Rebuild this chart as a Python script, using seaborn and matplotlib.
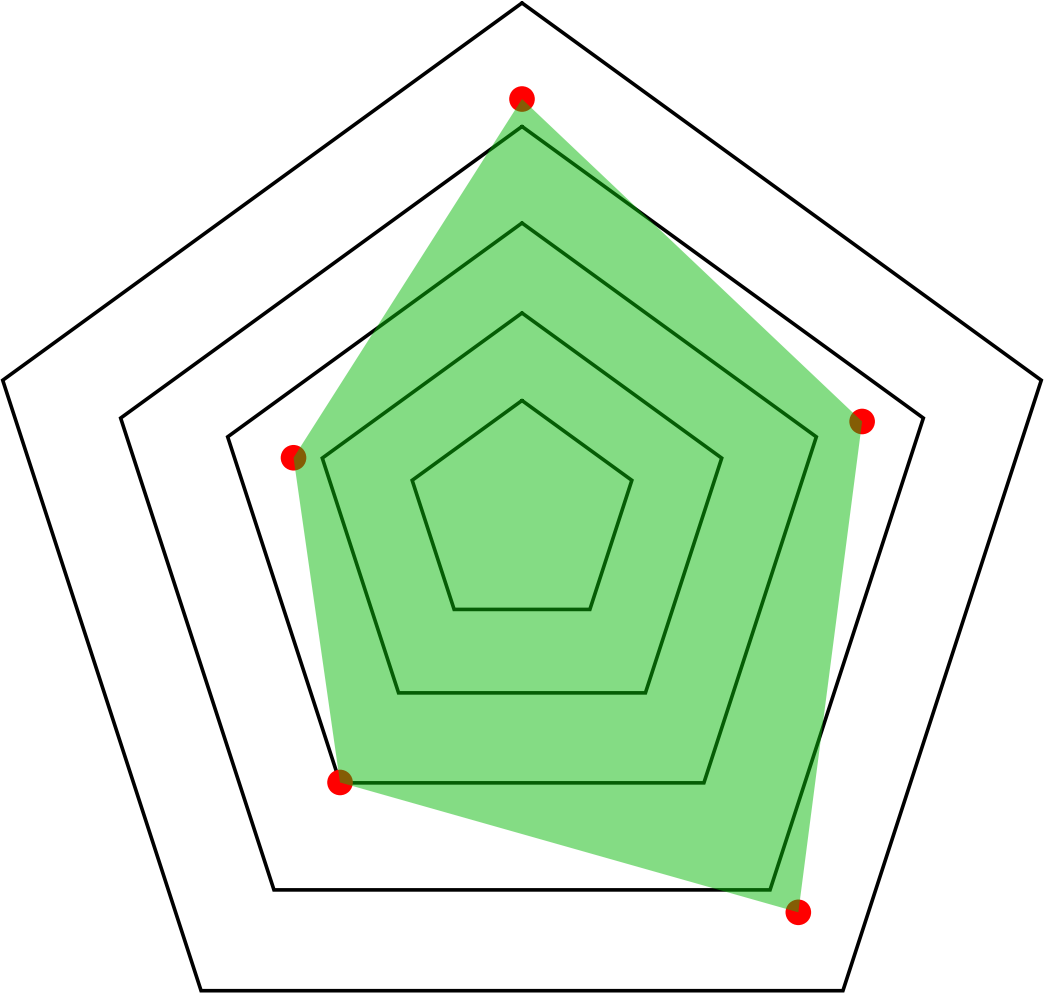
import numpy as np
import pandas as pd
import matplotlib
matplotlib.use("Agg")
import matplotlib.pyplot as plt
import seaborn as sns

# ---- data ----
categories = ["A", "B", "C", "D", "E"]
values = [79.3, 65.5, 86.1, 56.7, 44.0]
ring_levels = [21.15, 38.46, 56.68, 77.29, 100.0]
value_max = 100.0

# ---- layout / style (not data) ----
ring_center_shift = [2.93, 1.65, -0.09, -3.02, -3.11]  # vertical offset of each grid ring
fill_color = "#0bbb0b"
dot_color = "#ff0000"

sns.set_theme(style="white")

n = len(categories)
angles = np.deg2rad(90 - 360.0 / n * np.arange(n))

def polygon(radius, shift=0.0):
    xs = radius * np.cos(angles)
    ys = radius * np.sin(angles) + shift
    return np.append(xs, xs[0]), np.append(ys, ys[0])

fig = plt.figure(figsize=(10.44, 9.93), dpi=100)
ax = fig.add_axes([0, 0, 1, 1])
scale = 5.46  # px per unit
ax.set_xlim(-522 / scale, (1044 - 522) / scale)
ax.set_ylim((532 - 993) / scale, 532 / scale)
ax.set_aspect("equal")
ax.axis("off")

# grid rings
for lvl, sh in zip(ring_levels, ring_center_shift):
    xs, ys = polygon(lvl, sh)
    ax.plot(xs, ys, color="black", lw=2.6, solid_joinstyle="miter", zorder=1)

# data points
vals = np.array(values)
df = pd.DataFrame({
    "category": categories,
    "x": vals * np.cos(angles),
    "y": vals * np.sin(angles),
})
sns.scatterplot(data=df, x="x", y="y", color=dot_color, s=340, edgecolor="none",
                linewidth=0, ax=ax, zorder=2, legend=False)

# filled area
fx = np.append(df["x"].values, df["x"].values[0])
fy = np.append(df["y"].values, df["y"].values[0])
ax.fill(fx, fy, color=fill_color, alpha=0.5, lw=0, zorder=3)

ax.set_xlim(-522 / scale, (1044 - 522) / scale)
ax.set_ylim((532 - 993) / scale, 532 / scale)
ax.axis("off")

fig.savefig("out.png", dpi=100)
